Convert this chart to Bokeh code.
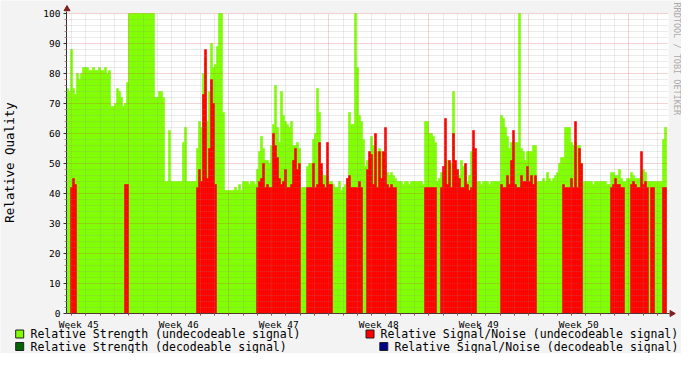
import numpy as np
from bokeh.plotting import figure
from bokeh.models import Range1d, FixedTicker, Grid, ColumnDataSource
from bokeh.embed import file_html
from bokeh.resources import INLINE
from bokeh.core.properties import value

# ---------------- data ----------------
step_days = 0.14            # one sample = 3.36 hours
week_labels = ["Week 45", "Week 46", "Week 47", "Week 48", "Week 49", "Week 50"]
week46_start = 4.36         # days after first sample where week 46 begins
y_ticks = [0, 10, 20, 30, 40, 50, 60, 70, 80, 90, 100]

# Relative Strength (undecodeable signal), one value per sample
strength_w45 = [75, 74, 88, 75, 73, 80, 78, 80, 82, 82, 82, 81, 81, 82, 81, 81, 82, 81, 81, 82,
                80, 81, 69, 69, 70, 75, 74, 72, 69, 70, 77, 100, 100, 100, 100, 100, 100, 100, 100, 100,
                100, 100, 100, 100, 72, 72, 74, 74, 72, 44]
strength_w46 = [44, 61, 44, 44, 44, 44, 44, 44, 57, 62, 44, 44, 44, 44, 44, 55, 64, 62, 80, 85,
                64, 74, 90, 82, 83, 89, 100, 100, 67, 41, 41, 41, 41, 41, 42, 41, 43, 41, 44, 44,
                44, 43, 44, 44, 43, 48, 54, 59, 55, 51]
strength_w47 = [51, 50, 56, 63, 76, 62, 57, 74, 66, 64, 63, 62, 64, 56, 56, 57, 55, 42, 42, 42,
                49, 50, 50, 58, 60, 75, 67, 47, 46, 46, 46, 44, 44, 43, 42, 42, 44, 41, 42, 43,
                45, 67, 63, 63, 100, 82, 66, 64, 58, 49]
strength_w48 = [51, 50, 59, 56, 54, 54, 55, 54, 52, 50, 47, 46, 47, 46, 45, 44, 44, 44, 43, 44,
                44, 43, 44, 44, 44, 44, 44, 44, 43, 64, 64, 60, 60, 59, 57, 44, 45, 47, 46, 48,
                51, 50, 50, 74, 48, 48, 46, 51, 49, 48]
strength_w49 = [44, 46, 54, 55, 47, 44, 44, 43, 44, 44, 44, 43, 44, 44, 44, 44, 44, 66, 65, 62,
                59, 55, 57, 57, 57, 57, 100, 55, 54, 51, 54, 54, 54, 56, 56, 44, 44, 44, 45, 44,
                47, 45, 44, 45, 46, 47, 50, 52, 52, 62]
strength_w50 = [62, 62, 57, 56, 57, 56, 56, 50, 44, 44, 44, 44, 44, 43, 44, 44, 44, 44, 44, 44,
                43, 43, 47, 47, 46, 46, 48, 45, 44, 44, 45, 45, 47, 46, 45, 45, 45, 46, 48, 47,
                44, 44, 44, 44, 44, 44, 44, 44, 58, 62]

# Relative Signal/Noise (undecodeable signal); None = no value
N = None
snr_w45 = [N, N, 42, 45, 43, N, N, N, N, N, N, N, N, N, N, N, N, N, N, N,
           N, N, N, N, N, N, N, N, N, 43, 43, N, N, N, N, N, N, N, N, N,
           N, N, N, N, N, N, N, N, N, N]
snr_w46 = [N, N, N, N, N, N, N, N, N, N, N, N, N, N, N, 42, 48, 44, 73, 88,
           45, 55, 78, 70, 43, N, N, N, N, N, N, N, N, N, N, N, N, N, N, N,
           N, N, N, N, N, 42, 44, 45, 50, 42]
snr_w47 = [43, 42, 42, 60, 56, 52, 45, 43, 44, 48, 42, 42, 43, 51, 55, 48, 50, N, N, N,
           42, 42, 42, 50, 42, 43, 57, 50, 43, 42, 57, 43, 43, N, N, N, N, N, N, N,
           45, 46, 42, 42, 42, 42, 44, 42, N, N]
snr_w48 = [48, 54, 53, 43, 60, 42, 54, 45, 54, 62, 43, 42, 43, 42, 42, N, N, N, N, N,
           N, N, N, N, N, N, N, N, N, 42, 42, 42, 42, 42, 42, N, N, 42, 49, 65,
           43, 51, 42, 60, 51, 48, 45, 42, 42, 50]
snr_w49 = [43, 41, 42, 61, 55, N, N, N, N, N, N, N, N, N, N, N, N, 43, 42, 42,
           46, 43, 51, 61, 43, 42, 42, 46, 44, 44, 49, 44, 46, 43, 46, N, N, N, N, N,
           N, N, N, N, N, N, N, N, 43, 42]
snr_w50 = [42, 42, 45, 42, 64, 42, 55, 50, N, N, N, N, N, N, N, N, N, N, N, N,
           N, N, 42, 43, 45, 43, 43, 42, 42, N, N, N, 43, 44, 43, 42, 42, 54, 43, 44,
           42, N, 42, 42, N, N, N, N, 42, 42]

legend_labels = ["Relative Strength (undecodeable signal)",
                 "Relative Signal/Noise (undecodeable signal)",
                 "Relative Strength  (decodeable signal)",
                 "Relative Signal/Noise (decodeable signal)"]

# ---------------- styling / layout ----------------
BG = "#F3F3F3"
GREEN = "#7FFF00"
RED = "#FF0000"
DKGREEN = "#006400"
BLUE = "#00008B"
FONT = "DejaVu Sans Mono"
PX = 0.07                   # days per pixel (100 px per week)
W, H = 681, 353
AXIS_X = 66                 # figure px of the time origin (left axis)
AXIS_Y = 313                # figure px of value 0 (bottom axis)


def dx(fx):   # figure px -> days
    return (fx - AXIS_X) * PX


def dy(fy):   # figure px (from top) -> value
    return (AXIS_Y - fy) / 3.0


strength = np.array(strength_w45 + strength_w46 + strength_w47 + strength_w48 + strength_w49 + strength_w50, dtype=float)
snr = np.array([np.nan if v is None else v for v in
                snr_w45 + snr_w46 + snr_w47 + snr_w48 + snr_w49 + snr_w50], dtype=float)
n = len(strength)
xc = (np.arange(n) + 0.5) * step_days

canvas_days = PX * 602      # white plot canvas width (days)

week_starts = [round(week46_start + 7 * k, 3) for k in range(6) if week46_start + 7 * k < canvas_days]
label_pos = [round(week46_start - 3.5 + 7 * k, 3) for k in range(len(week_labels))]
day_pos = [round(week46_start - 4 + d, 3) for d in range(43) if 0 < week46_start - 4 + d < canvas_days]
day_minor = [d for d in day_pos if all(abs(d - w) > 1e-6 for w in week_starts)]
y_minor = [v for v in range(0, 101, 2) if v % 10 != 0]

p = figure(width=W, height=H,
           x_range=Range1d(dx(0), dx(W)), y_range=Range1d(dy(H), dy(0)),
           output_backend="svg", toolbar_location=None, min_border=0,
           background_fill_color=BG, border_fill_color=BG, outline_line_color=None)
p.grid.visible = False

# white canvas
p.quad(left=[0], right=[canvas_days], bottom=[0], top=[100], fill_color="white",
       line_color=None, level="underlay")

src = ColumnDataSource(dict(x=xc, g=strength, r=snr))
p.vbar(x="x", top="g", bottom=0, width=step_days, source=src, fill_color=GREEN,
       line_color=GREEN, line_width=0.6)
p.vbar(x="x", top="r", bottom=0, width=step_days, source=src, fill_color=RED,
       line_color=RED, line_width=0.6)

# grids drawn on top like RRDtool
yg = Grid(dimension=1, ticker=FixedTicker(ticks=y_ticks, minor_ticks=y_minor),
          grid_line_color="#D04040", grid_line_alpha=0.45, grid_line_dash="1 1",
          minor_grid_line_color="#8C8C8C", minor_grid_line_alpha=0.35, minor_grid_line_dash="1 1",
          cross_bounds=(0, canvas_days), level="overlay")
xg = Grid(dimension=0, ticker=FixedTicker(ticks=week_starts, minor_ticks=day_minor),
          grid_line_color="#D04040", grid_line_alpha=0.45, grid_line_dash="1 1",
          minor_grid_line_color="#8C8C8C", minor_grid_line_alpha=0.35, minor_grid_line_dash="1 1",
          cross_bounds=(0, 100), level="overlay")
p.add_layout(yg)
p.add_layout(xg)

# axes fixed at the origin inside the frame
p.xaxis.fixed_location = 0
p.yaxis.fixed_location = 0
p.xaxis.bounds = (0, dx(669))
p.yaxis.bounds = (0, dy(11))

p.xaxis.ticker = FixedTicker(ticks=label_pos, minor_ticks=day_pos)
p.xaxis.major_label_overrides = {pos: lab for pos, lab in zip(label_pos, week_labels)}
p.xaxis.major_tick_out = 0
p.xaxis.major_tick_in = 0
p.xaxis.minor_tick_out = 2
p.xaxis.minor_tick_in = 0
p.xaxis.minor_tick_line_color = "#A04040"
p.xaxis.major_label_standoff = 3

p.yaxis.ticker = FixedTicker(ticks=y_ticks, minor_ticks=y_minor)
p.yaxis.major_tick_out = 3
p.yaxis.major_tick_in = 0
p.yaxis.minor_tick_out = 2
p.yaxis.minor_tick_in = 0
p.yaxis.minor_tick_line_color = "#C08080"
p.yaxis.major_label_standoff = 3
p.yaxis.axis_label = "Relative Quality"
p.yaxis.axis_label_standoff = 23
p.yaxis.axis_label_text_font = FONT
p.yaxis.axis_label_text_font_size = "12.5px"
p.yaxis.axis_label_text_font_style = "normal"
p.yaxis.axis_label_text_color = "#000000"

for ax in (p.xaxis, p.yaxis):
    ax.axis_line_color = "#303030"
    ax.major_tick_line_color = "#303030"
    ax.major_label_text_font = FONT
    ax.major_label_text_font_size = "9.5px"
    ax.major_label_text_color = "#000000"

# axis arrows
p.scatter(x=[dx(66.5)], y=[dy(8.5)], marker="triangle", size=6, color="#7F1F1F")
p.scatter(x=[dx(671.3)], y=[0], marker="triangle", angle=-np.pi / 2, size=6, color="#7F1F1F")

# watermark
p.text(x=[dx(676.5)], y=[dy(2)], text=["RRDTOOL / TOBI OETIKER"], angle=-np.pi / 2,
       text_align="left", text_baseline="middle", text_color="#AAAAAA",
       text_font=value(FONT), text_font_size="8.5px")

# legend
sq_x = [dx(19.2), dx(369.5), dx(19.2), dx(383.3)]
row_y = [dy(333.5), dy(333.5), dy(346), dy(346)]
tx_x = [dx(30), dx(380), dx(30), dx(394)]
p.scatter(x=sq_x, y=row_y, marker="square", size=8,
          fill_color=[GREEN, RED, DKGREEN, BLUE], line_color="#202020", line_width=1)
p.text(x=tx_x, y=row_y, text=legend_labels, text_baseline="middle", text_align="left",
       text_font=value(FONT), text_font_size="11.5px", text_color="#000000")

open("out.html", "w").write(file_html(p, INLINE))
